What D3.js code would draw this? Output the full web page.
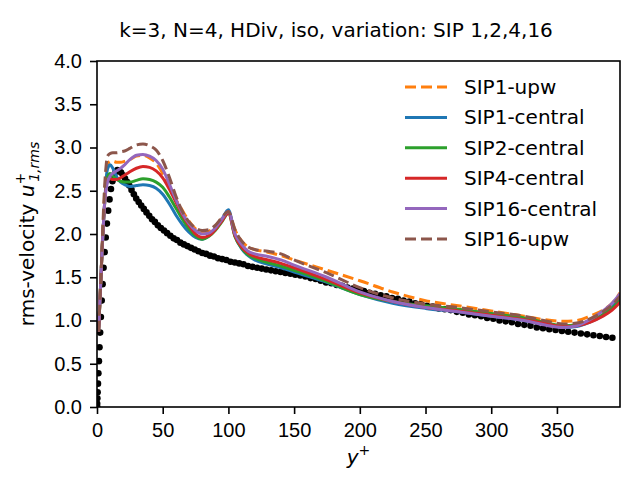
<!DOCTYPE html>
<html>
<head>
<meta charset="utf-8">
<script src="https://cdn.jsdelivr.net/npm/d3@7"></script>
<style>
body { margin: 0; background: #fff; }
svg { font-family: 'DejaVu Sans', sans-serif; }
.axis text { font-size: 20px; fill: #000; }
.axis line { stroke: #000; stroke-width: 1.6; }
</style>
</head>
<body>
<svg width="644" height="490"></svg>
<script>
// DNS reference (black dots)
var dnsY = [0, 0.03, 0.12, 0.27, 0.47, 0.74, 1.06, 1.45, 1.89, 2.39, 2.95, 3.57, 4.25, 4.98, 5.77, 6.63, 7.54, 8.5, 9.53, 10.61,
  11.76, 12.95, 14.21, 15.52, 16.89, 18.31, 19.8, 21.34, 22.93, 24.58, 26.28, 28.04, 29.86, 31.73, 33.65, 35.63, 37.66, 39.75, 41.88, 44.07,
  46.31, 48.61, 50.96, 53.35, 55.81, 58.31, 60.86, 63.45, 66.1, 68.81, 71.55, 74.35, 77.19, 80.08, 83.01, 86.0, 89.03, 92.1, 95.23, 98.4,
  101.6, 104.9, 108.2, 111.5, 114.9, 118.3, 121.8, 125.3, 128.8, 132.4, 136.0, 139.7, 143.4, 147.2, 150.9, 154.7, 158.6, 162.5, 166.4, 170.3,
  174.3, 178.3, 182.4, 186.5, 190.6, 194.7, 198.9, 203.1, 207.3, 211.6, 215.9, 220.2, 224.5, 228.9, 233.3, 237.7, 242.1, 246.6, 251.1, 255.6,
  260.1, 264.6, 269.2, 273.8, 278.4, 283.0, 287.6, 292.3, 296.9, 301.6, 306.3, 311.0, 315.7, 320.4, 325.2, 329.9, 334.7, 339.4, 344.2, 349.0,
  353.8, 358.6, 363.4, 368.2, 373.0, 377.8, 382.6, 387.4, 392.2];
var dnsU = [0, 0.01, 0.04, 0.10, 0.17, 0.27, 0.39, 0.53, 0.69, 0.86, 1.04, 1.23, 1.42, 1.61, 1.79, 1.96, 2.12, 2.27, 2.40, 2.52,
  2.61, 2.68, 2.72, 2.74, 2.73, 2.71, 2.68, 2.64, 2.60, 2.56, 2.51, 2.46, 2.41, 2.37, 2.33, 2.29, 2.25, 2.21, 2.17, 2.14,
  2.10, 2.07, 2.04, 2.01, 1.98, 1.95, 1.93, 1.90, 1.88, 1.86, 1.84, 1.82, 1.80, 1.78, 1.77, 1.75, 1.74, 1.72, 1.71, 1.70,
  1.68, 1.67, 1.66, 1.65, 1.63, 1.62, 1.61, 1.60, 1.59, 1.58, 1.57, 1.56, 1.55, 1.54, 1.53, 1.52, 1.51, 1.49, 1.48, 1.46,
  1.44, 1.43, 1.41, 1.40, 1.38, 1.37, 1.35, 1.34, 1.32, 1.31, 1.29, 1.28, 1.26, 1.25, 1.23, 1.22, 1.20, 1.19, 1.17, 1.16,
  1.14, 1.13, 1.12, 1.10, 1.09, 1.07, 1.06, 1.05, 1.03, 1.02, 1.00, 0.99, 0.98, 0.96, 0.95, 0.94, 0.92, 0.91, 0.90, 0.89,
  0.88, 0.87, 0.86, 0.85, 0.84, 0.83, 0.82, 0.81, 0.80];

// simulation y+ positions, shared by all runs
var simY = [1.2, 2, 3, 4, 5, 6, 7, 8, 10, 12, 15, 18, 21, 25, 30, 35, 40, 45, 50, 55, 60, 65, 70, 75, 80, 85, 90, 95, 100,
  105, 110, 115, 120, 130, 140, 150, 175, 200, 225, 250, 275, 300, 325, 340, 355, 365, 375, 385, 392, 398];

var sip1Upw = [0.87, 1.15, 1.5, 1.85, 2.2, 2.5, 2.7, 2.8, 2.84, 2.84, 2.83, 2.83, 2.84, 2.86, 2.9, 2.91, 2.88, 2.82, 2.7, 2.55, 2.4, 2.27, 2.15, 2.06, 2.02, 2.03, 2.09, 2.18, 2.25,
  2.05, 1.92, 1.85, 1.82, 1.79, 1.75, 1.7, 1.58, 1.46, 1.33, 1.23, 1.17, 1.11, 1.05, 1.01, 0.99, 1.0, 1.05, 1.12, 1.2, 1.32];
var sip1Central = [0.87, 1.15, 1.5, 1.85, 2.15, 2.4, 2.65, 2.75, 2.8, 2.76, 2.66, 2.6, 2.57, 2.55, 2.56, 2.57, 2.56, 2.53, 2.46, 2.35, 2.22, 2.11, 2.02, 1.96, 1.94, 1.98, 2.06, 2.17, 2.28,
  1.98, 1.83, 1.75, 1.7, 1.65, 1.61, 1.56, 1.44, 1.3, 1.2, 1.14, 1.1, 1.05, 1.0, 0.96, 0.92, 0.93, 0.98, 1.06, 1.15, 1.26];
var sip2Central = [0.87, 1.15, 1.5, 1.85, 2.15, 2.4, 2.58, 2.66, 2.7, 2.67, 2.63, 2.61, 2.6, 2.6, 2.62, 2.64, 2.63, 2.6, 2.54, 2.43, 2.3, 2.17, 2.06, 1.98, 1.94, 1.97, 2.04, 2.14, 2.24,
  1.97, 1.84, 1.76, 1.72, 1.67, 1.63, 1.58, 1.45, 1.3, 1.22, 1.17, 1.13, 1.08, 1.03, 0.98, 0.94, 0.95, 1.0, 1.07, 1.14, 1.23];
var sip4Central = [0.87, 1.15, 1.5, 1.85, 2.15, 2.4, 2.55, 2.62, 2.64, 2.63, 2.63, 2.65, 2.68, 2.72, 2.76, 2.78, 2.77, 2.73, 2.65, 2.52, 2.37, 2.22, 2.1, 2.0, 1.96, 1.98, 2.05, 2.15, 2.24,
  1.98, 1.85, 1.78, 1.74, 1.7, 1.66, 1.61, 1.47, 1.32, 1.22, 1.15, 1.11, 1.06, 1.01, 0.97, 0.93, 0.94, 0.98, 1.05, 1.12, 1.21];
var sip16Central = [0.87, 1.15, 1.5, 1.85, 2.15, 2.4, 2.52, 2.6, 2.67, 2.7, 2.73, 2.76, 2.8, 2.86, 2.91, 2.92, 2.9, 2.85, 2.75, 2.58, 2.4, 2.24, 2.12, 2.04, 2.0, 2.01, 2.07, 2.17, 2.26,
  2.0, 1.88, 1.8, 1.77, 1.74, 1.7, 1.64, 1.5, 1.33, 1.22, 1.15, 1.1, 1.05, 1.0, 0.95, 0.92, 0.94, 1.01, 1.11, 1.2, 1.31];
var sip16Upw = [0.87, 1.15, 1.5, 1.9, 2.3, 2.6, 2.8, 2.9, 2.93, 2.94, 2.94, 2.95, 2.96, 2.99, 3.03, 3.04, 3.02, 2.97, 2.85, 2.66, 2.44, 2.26, 2.14, 2.07, 2.04, 2.05, 2.1, 2.19, 2.26,
  2.05, 1.92, 1.85, 1.82, 1.8, 1.77, 1.7, 1.55, 1.38, 1.26, 1.19, 1.15, 1.1, 1.05, 1.0, 0.96, 0.97, 1.02, 1.1, 1.18, 1.28];

var seriesNames = ['SIP1-upw', 'SIP1-central', 'SIP2-central', 'SIP4-central', 'SIP16-central', 'SIP16-upw'];
var seriesValues = [sip1Upw, sip1Central, sip2Central, sip4Central, sip16Central, sip16Upw];
var seriesColors = ['#ff7f0e', '#1f77b4', '#2ca02c', '#d62728', '#9467bd', '#8c564b'];
var seriesDashed = [true, false, false, false, false, true];

var xTicks = [0, 50, 100, 150, 200, 250, 300, 350];
var yTicks = [0, 0.5, 1, 1.5, 2, 2.5, 3, 3.5, 4];

var svg = d3.select('svg'),
  margin = {top: 61, right: 24, bottom: 83, left: 97},
  width = +svg.attr('width') - margin.left - margin.right,
  height = +svg.attr('height') - margin.top - margin.bottom,
  g = svg.append('g').attr('transform', 'translate(' + margin.left + ',' + margin.top + ')');

var x = d3.scaleLinear().domain([0, 398]).range([0, width]),
  y = d3.scaleLinear().domain([0, 4]).range([height, 0]);

g.append('defs').append('clipPath').attr('id', 'plotclip')
  .append('rect').attr('width', width).attr('height', height);

var plot = g.append('g').attr('clip-path', 'url(#plotclip)');

// DNS dots
plot.selectAll('.dns')
  .data(dnsY)
  .enter()
  .append('circle')
  .attr('class', 'dns')
  .attr('r', 3.3)
  .attr('fill', '#000')
  .attr('cx', function(d) { return x(d); })
  .attr('cy', function(d, i) { return y(dnsU[i]); });

var line = d3.line()
  .curve(d3.curveMonotoneX)
  .x(function(d) { return x(d[0]); })
  .y(function(d) { return y(d[1]); });

seriesValues.forEach(function(vals, k) {
  plot.append('path')
    .datum(simY.map(function(v, i) { return [v, vals[i]]; }))
    .attr('fill', 'none')
    .attr('stroke', seriesColors[k])
    .attr('stroke-width', 3)
    .attr('stroke-dasharray', seriesDashed[k] ? '11,5' : null)
    .attr('d', line);
});

// axes
g.append('g')
  .attr('class', 'axis')
  .attr('transform', 'translate(0,' + height + ')')
  .call(d3.axisBottom(x).tickValues(xTicks).tickSize(7).tickPadding(9).tickFormat(d3.format('d')));

g.append('g')
  .attr('class', 'axis')
  .call(d3.axisLeft(y).tickValues(yTicks).tickSize(7).tickPadding(8).tickFormat(d3.format('.1f')));

g.selectAll('.axis .domain').remove();
g.append('rect')
  .attr('width', width)
  .attr('height', height)
  .attr('fill', 'none')
  .attr('stroke', '#000')
  .attr('stroke-width', 1.6);

// labels
svg.append('text')
  .attr('x', 336)
  .attr('y', 37)
  .attr('text-anchor', 'middle')
  .style('font-size', '20px')
  .text('k=3, N=4, HDiv, iso, variation: SIP 1,2,4,16');

var xl = svg.append('text')
  .attr('x', margin.left + width / 2)
  .attr('y', 464)
  .attr('text-anchor', 'middle')
  .style('font-size', '20px');
xl.append('tspan').style('font-style', 'italic').text('y');
xl.append('tspan').attr('dy', -9).style('font-size', '14px').text('+');

var yl = svg.append('text')
  .attr('transform', 'translate(34,' + (margin.top + height / 2) + ') rotate(-90)')
  .attr('text-anchor', 'middle')
  .style('font-size', '20px');
yl.append('tspan').text('rms-velocity ');
yl.append('tspan').style('font-style', 'italic').text('u');
yl.append('tspan').attr('dy', -9).style('font-size', '14px').text('+');
yl.append('tspan').attr('dx', -9).attr('dy', 14).style('font-size', '14px').style('font-style', 'italic').text('1,rms');

// legend
var legend = svg.append('g').attr('transform', 'translate(405,87)');
seriesNames.forEach(function(name, k) {
  var row = legend.append('g').attr('transform', 'translate(0,' + (k * 30.4) + ')');
  row.append('line')
    .attr('x1', 0).attr('x2', 42)
    .attr('stroke', seriesColors[k])
    .attr('stroke-width', 3)
    .attr('stroke-dasharray', seriesDashed[k] ? '11,5' : null);
  row.append('text')
    .attr('x', 59)
    .attr('dy', '0.35em')
    .style('font-size', '20px')
    .text(name);
});
</script>
</body>
</html>
